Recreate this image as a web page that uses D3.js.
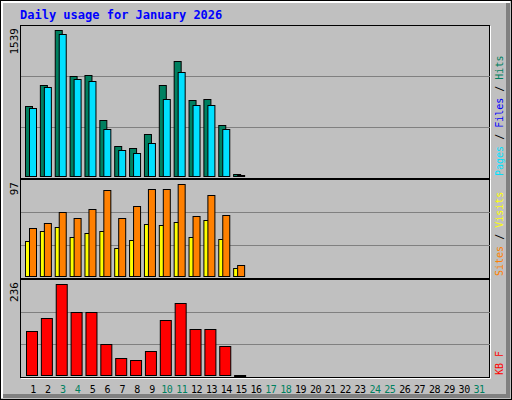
<!DOCTYPE html>
<html><head><meta charset="utf-8">
<script src="https://cdn.jsdelivr.net/npm/d3@7"></script>
<style>body{margin:0;background:#fff}text{font-family:"DejaVu Sans Mono",monospace}</style>
</head><body><svg id="c" width="512" height="400"></svg>
<script>
// daily values
var days = d3.range(1, 32);
var weekend = [3, 4, 10, 11, 17, 18, 24, 25, 31];
var hits = [734, 964, 1539, 1058, 1069, 588, 316, 295, 441, 954, 1215, 797, 808, 536, 26];
var pages = [713, 933, 1498, 1027, 1006, 494, 274, 243, 347, 808, 1100, 745, 745, 494, 10];
var sites = [37, 47, 52, 41, 45, 47, 30, 38, 55, 54, 57, 41, 59, 39, 8];
var visits = [51, 56, 67, 61, 71, 91, 61, 74, 92, 92, 97, 63, 85, 64, 12];
var kbytes = [114, 148, 236, 163, 163, 80, 44, 39, 62, 143, 187, 119, 119, 75, 1];

var svg = d3.select("#c");
svg.append("rect").attr("x", 0.5).attr("y", 0.5).attr("width", 511).attr("height", 399)
    .attr("fill", "#c0c0c0").attr("stroke", "#000");
svg.append("path").attr("d", "M2,398V2H510").attr("fill", "none").attr("stroke", "#fff").attr("stroke-width", 2);
svg.append("path").attr("d", "M3,396H508V3").attr("fill", "none").attr("stroke", "#808080").attr("stroke-width", 4);

svg.append("text").attr("x", 20).attr("y", 19).attr("fill", "#0000ff")
    .attr("font-size", 12).attr("font-weight", "bold").text("Daily usage for January 2026");

var x = d3.scaleLinear().domain([1, 31]).range([33, 479]);

function panel(top, bottom, max, lbl) {
    svg.append("rect").attr("x", 20.5).attr("y", top + 0.5).attr("width", 469).attr("height", bottom - top)
        .attr("fill", "#c0c0c0").attr("stroke", "#000");
    svg.append("path").attr("d", "M21," + (bottom + 1.5) + "H490.5V" + (top + 1))
        .attr("fill", "none").attr("stroke", "#fff");
    var y = d3.scaleLinear().domain([0, max]).range([bottom - 2, top + 5]);
    [1, 2].forEach(function(i) {
        var gy = Math.round(bottom - i * (bottom - top) / 3) + 0.5;
        svg.append("line").attr("x1", 21).attr("x2", 490).attr("y1", gy).attr("y2", gy).attr("stroke", "#808080");
    });
    svg.append("text").attr("transform", "translate(18," + (top + 3) + ") rotate(-90)")
        .attr("text-anchor", "end").attr("font-size", 11).text(lbl);
    return y;
}

function bars(data, y, dx, w, color) {
    svg.append("g").selectAll("rect").data(data).enter().append("rect")
        .attr("x", function(d, i) { return x(i + 1) + dx + 0.5; })
        .attr("y", function(d) { return Math.round(y(d)) + 0.5; })
        .attr("width", w)
        .attr("height", function(d) { return Math.max(1, Math.round(y(0) - y(d))); })
        .attr("fill", color).attr("stroke", "#000");
}

var y1 = panel(25, 178, 1539, "1539");
bars(hits, y1, -8, 7, "#008060");
bars(pages, y1, -4, 7, "#00e0ff");

var y2 = panel(179, 278, 97, "97");
bars(sites, y2, -8, 5, "#ffff00");
bars(visits, y2, -4, 7, "#ff8000");

var y3 = panel(279, 377, 236, "236");
bars(kbytes, y3, -7, 11, "#ff0000");

svg.append("g").selectAll("text").data(days).enter().append("text")
    .attr("x", function(d) { return x(d); }).attr("y", 393)
    .attr("text-anchor", "middle").attr("font-size", 10).attr("letter-spacing", -0.5)
    .attr("fill", function(d) { return weekend.indexOf(d) >= 0 ? "#00805f" : "#000"; })
    .text(function(d) { return d; });

function legend(yb, parts) {
    var t = svg.append("text").attr("transform", "translate(503," + yb + ") rotate(-90)").attr("font-size", 10);
    parts.forEach(function(p, i) {
        if (i) t.append("tspan").attr("fill", "#000").text(" / ");
        t.append("tspan").attr("fill", p[1]).text(p[0]);
    });
}
legend(176, [["Pages", "#00e0ff"], ["Files", "#0000ff"], ["Hits", "#008060"]]);
legend(276, [["Sites", "#ff8000"], ["Visits", "#ffff00"]]);
legend(375, [["KB F", "#ff0000"]]);
</script></body></html>
